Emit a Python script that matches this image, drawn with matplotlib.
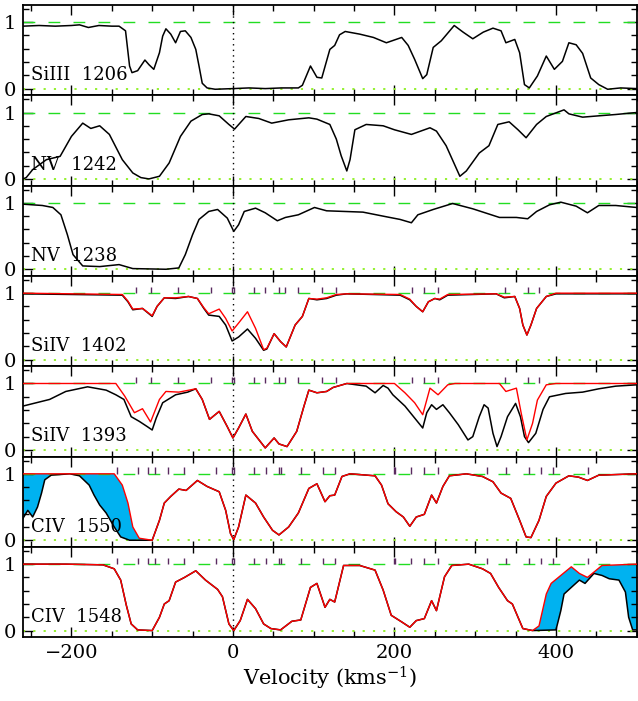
import numpy as np
import matplotlib
matplotlib.use("Agg")
import matplotlib.pyplot as plt
from matplotlib.ticker import MultipleLocator

plt.rcParams['font.family'] = ['DejaVu Serif']
plt.rcParams['mathtext.fontset'] = 'dejavuserif'

# ---- data (velocity km/s, normalised flux) ----
siiii_v = [-260, -240, -220, -200, -190, -179, -166, -150, -141, -133, -128, -125, -118, -109, -104, -98,
           -91, -87, -83, -77, -71, -65, -59, -52, -46, -42, -38, -32, -22, 0, 20, 40, 60, 81, 86, 96,
           104, 110, 120, 126, 132, 139, 157, 174, 190, 209, 217, 225, 235, 240, 248, 258, 274, 285,
           297, 310, 322, 332, 338, 349, 355, 361, 367, 377, 388, 398, 408, 416, 425, 433, 443, 453,
           464, 480, 500]
siiii_f = [0.94, 0.95, 0.94, 0.95, 0.96, 0.92, 0.95, 0.94, 0.94, 0.87, 0.34, 0.24, 0.27, 0.43, 0.36, 0.29,
           0.54, 0.79, 0.90, 0.82, 0.69, 0.86, 0.87, 0.77, 0.59, 0.34, 0.08, 0.01, -0.01, 0.0, 0.01, 0.0,
           0.01, 0.01, 0.05, 0.34, 0.17, 0.16, 0.59, 0.65, 0.81, 0.86, 0.82, 0.77, 0.69, 0.77, 0.65, 0.44,
           0.15, 0.21, 0.62, 0.72, 0.95, 0.85, 0.75, 0.85, 0.91, 0.87, 0.69, 0.74, 0.54, 0.06, 0.01, 0.19,
           0.49, 0.29, 0.41, 0.69, 0.66, 0.53, 0.16, 0.06, -0.01, 0.01, 0.0]

nv1242_v = [-260, -256, -248, -231, -214, -200, -186, -176, -165, -153, -137, -124, -114, -104, -91, -79,
            -65, -52, -38, -30, -17, -5, 2, 16, 32, 48, 69, 94, 104, 120, 128, 134, 141, 145, 151, 165,
            186, 200, 221, 244, 252, 264, 281, 289, 305, 317, 328, 342, 353, 363, 376, 388, 410, 416,
            433, 453, 474, 500]
nv1242_f = [0.0, 0.02, 0.14, 0.29, 0.34, 0.64, 0.84, 0.76, 0.80, 0.67, 0.29, 0.09, 0.02, 0.0, 0.04, 0.24,
            0.64, 0.87, 0.97, 0.98, 0.95, 0.82, 0.75, 0.94, 0.91, 0.84, 0.89, 0.92, 0.90, 0.82, 0.60, 0.35,
            0.12, 0.29, 0.74, 0.82, 0.80, 0.74, 0.67, 0.77, 0.72, 0.50, 0.04, 0.12, 0.39, 0.50, 0.82, 0.86,
            0.74, 0.62, 0.82, 0.94, 1.04, 0.98, 0.93, 0.95, 0.97, 1.0]

nv1238_v = [-260, -236, -223, -213, -205, -198, -186, -165, -141, -124, -83, -67, -59, -50, -42, -30,
            -19, -7, 1, 7, 14, 28, 40, 55, 65, 81, 101, 116, 161, 190, 207, 221, 229, 248, 272, 297,
            330, 351, 365, 376, 392, 406, 425, 439, 453, 474, 500]
nv1238_f = [0.98, 0.96, 0.93, 0.82, 0.52, 0.22, 0.05, 0.04, 0.07, 0.01, 0.0, 0.02, 0.22, 0.52, 0.75, 0.87,
            0.90, 0.77, 0.57, 0.67, 0.87, 0.92, 0.85, 0.73, 0.78, 0.82, 0.93, 0.88, 0.86, 0.79, 0.75, 0.70,
            0.82, 0.90, 0.99, 0.91, 0.78, 0.78, 0.76, 0.87, 0.97, 1.01, 0.95, 0.85, 0.96, 0.96, 0.93]

siiv1402_v = [-260, -137, -130, -124, -112, -100, -94, -85, -71, -55, -44, -36, -30, -17, -9, -1, 7, 18,
              28, 38, 42, 51, 59, 66, 77, 86, 94, 104, 116, 128, 141, 207, 219, 227, 235, 242, 250, 256,
              266, 326, 336, 349, 355, 359, 364, 369, 376, 388, 400, 500]
siiv1402_f = [0.99, 0.97, 0.87, 0.75, 0.77, 0.65, 0.80, 0.93, 0.92, 0.95, 0.92, 0.77, 0.67, 0.65, 0.52,
              0.28, 0.34, 0.46, 0.32, 0.14, 0.16, 0.39, 0.27, 0.19, 0.52, 0.65, 0.92, 0.90, 0.92, 0.97,
              0.99, 0.97, 0.90, 0.80, 0.72, 0.87, 0.92, 0.90, 0.97, 0.99, 0.93, 0.95, 0.77, 0.52, 0.37,
              0.52, 0.77, 0.95, 0.99, 0.99]
siiv1402_model = [1.0, 0.98, 0.88, 0.76, 0.77, 0.66, 0.80, 0.93, 0.93, 0.95, 0.92, 0.78, 0.69, 0.76, 0.62,
                  0.43, 0.55, 0.72, 0.47, 0.15, 0.17, 0.39, 0.27, 0.19, 0.52, 0.65, 0.92, 0.91, 0.93, 0.98,
                  0.99, 0.98, 0.91, 0.80, 0.72, 0.87, 0.92, 0.91, 0.98, 0.99, 0.94, 0.95, 0.77, 0.52, 0.37,
                  0.52, 0.77, 0.95, 1.0, 1.0]

siiv1393_v = [-260, -227, -207, -180, -157, -145, -135, -126, -116, -106, -100, -95, -87, -71, -56, -46,
              -38, -29, -17, -7, 0, 7, 16, 24, 40, 51, 57, 67, 79, 88, 94, 104, 116, 124, 141, 165, 176,
              186, 192, 198, 213, 223, 235, 240, 246, 252, 260, 268, 279, 291, 297, 305, 311, 316, 322,
              327, 332, 340, 350, 356, 361, 366, 375, 384, 392, 412, 433, 453, 474, 500]
siiv1393_f = [0.66, 0.76, 0.88, 0.95, 0.90, 0.83, 0.76, 0.50, 0.43, 0.35, 0.30, 0.48, 0.71, 0.83, 0.87,
              0.92, 0.76, 0.46, 0.58, 0.35, 0.18, 0.33, 0.54, 0.28, 0.03, 0.18, 0.09, 0.05, 0.28, 0.66,
              0.90, 0.86, 0.88, 0.94, 1.0, 0.96, 0.86, 0.97, 0.93, 0.83, 0.66, 0.51, 0.33, 0.56, 0.68,
              0.61, 0.68, 0.56, 0.38, 0.15, 0.20, 0.50, 0.68, 0.63, 0.25, 0.05, 0.20, 0.50, 0.70, 0.50,
              0.20, 0.11, 0.25, 0.61, 0.80, 0.85, 0.87, 0.92, 0.96, 0.98]
siiv1393_model_v = [-260, -145, -134, -122, -112, -102, -91, -83, -67, -46, -38, -29, -17, -7, 0, 7, 16,
                    24, 40, 51, 57, 67, 79, 88, 94, 104, 116, 124, 141, 200, 213, 225, 235, 244, 254, 266,
                    275, 330, 338, 351, 357, 364, 371, 377, 388, 400, 500]
siiv1393_model = [1.0, 1.0, 0.81, 0.56, 0.62, 0.42, 0.76, 0.88, 0.87, 0.92, 0.76, 0.46, 0.58, 0.35, 0.18,
                  0.33, 0.54, 0.28, 0.03, 0.18, 0.09, 0.05, 0.28, 0.66, 0.90, 0.86, 0.88, 0.94, 1.0, 1.0,
                  0.86, 0.71, 0.53, 0.93, 0.83, 0.98, 1.0, 1.0, 0.88, 0.93, 0.55, 0.15, 0.40, 0.75, 0.98,
                  1.0, 1.0]

civ1550_v = [-260, -254, -248, -242, -237, -233, -225, -202, -190, -178, -172, -165, -157, -147, -139, -128,
             -100, -91, -85, -77, -67, -58, -44, -32, -17, -9, -3, 1, 7, 16, 28, 38, 49, 57, 69, 81, 94,
             104, 114, 120, 126, 135, 145, 176, 184, 192, 202, 211, 219, 227, 237, 246, 252, 260, 268,
             289, 309, 322, 332, 344, 355, 363, 369, 379, 388, 400, 416, 428, 439, 453, 500]
civ1550_f = [0.33, 0.45, 0.35, 0.50, 0.71, 0.91, 0.98, 1.0, 0.97, 0.83, 0.68, 0.53, 0.41, 0.20, 0.05, 0.0,
             0.0, 0.30, 0.56, 0.66, 0.77, 0.75, 0.90, 0.81, 0.73, 0.45, 0.10, 0.01, 0.20, 0.68, 0.56, 0.35,
             0.15, 0.08, 0.20, 0.41, 0.78, 0.85, 0.58, 0.67, 0.68, 0.96, 1.0, 0.97, 0.83, 0.55, 0.43, 0.35,
             0.21, 0.35, 0.39, 0.68, 0.56, 0.81, 0.97, 1.0, 0.96, 0.88, 0.71, 0.63, 0.30, 0.05, 0.04, 0.30,
             0.66, 0.86, 0.97, 0.95, 0.90, 0.98, 1.0]
civ1550_model_v = [-260, -147, -137, -130, -124, -116, -100] + civ1550_v[17:]
civ1550_model = [1.0, 1.0, 0.83, 0.56, 0.20, 0.03, 0.0] + civ1550_f[17:]

civ1548_v = [-260, -207, -161, -147, -139, -132, -126, -118, -100, -91, -85, -79, -71, -60, -46, -34, -19,
             -13, -5, 1, 9, 18, 28, 38, 47, 59, 73, 84, 96, 104, 114, 120, 126, 137, 157, 176, 186, 196,
             209, 219, 227, 237, 246, 252, 262, 271, 292, 309, 319, 329, 340, 346, 359, 371, 400, 406,
             410, 419, 429, 436, 447, 457, 466, 478, 486, 490, 495, 500]
civ1548_f = [1.0, 1.0, 0.99, 0.93, 0.76, 0.38, 0.10, 0.01, 0.0, 0.20, 0.40, 0.45, 0.73, 0.80, 0.90, 0.76,
             0.62, 0.51, 0.10, 0.0, 0.15, 0.47, 0.33, 0.10, 0.03, 0.01, 0.14, 0.16, 0.65, 0.71, 0.35, 0.47,
             0.43, 0.98, 0.98, 0.91, 0.61, 0.23, 0.13, 0.05, 0.15, 0.18, 0.45, 0.30, 0.81, 0.98, 1.0, 0.93,
             0.86, 0.65, 0.45, 0.40, 0.03, 0.0, 0.01, 0.30, 0.55, 0.65, 0.76, 0.71, 0.86, 0.83, 0.78, 0.76,
             0.58, 0.20, 0.01, 0.01]
civ1548_model_v = civ1548_v[:54] + [379, 388, 394, 404, 419, 429, 439, 447, 457, 500]
civ1548_model = civ1548_f[:54] + [0.07, 0.55, 0.71, 0.81, 0.96, 0.86, 0.80, 0.88, 0.98, 1.0]

# velocity components marked at the top of the fitted panels
siiv_comps = [-120, -101, -68, -27, -1, 1, 26, 40, 57, 65, 80, 110, 128, 222, 237, 254, 337, 365, 379]
civ_comps = [-143, -118, -105, -96, -81, -60, -21, -1, 1, 26, 41, 57, 59, 84, 112, 126, 199, 201, 221,
             236, 254, 314, 338, 367, 381, 396, 440]

labels = ['SiIII  1206', 'NV  1242', 'NV  1238', 'SiIV  1402', 'SiIV  1393', 'CIV  1550', 'CIV  1548']

panels = [
    (siiii_v, siiii_f, None, None, None, None),
    (nv1242_v, nv1242_f, None, None, None, None),
    (nv1238_v, nv1238_f, None, None, None, None),
    (siiv1402_v, siiv1402_f, siiv1402_v, siiv1402_model, siiv_comps, None),
    (siiv1393_v, siiv1393_f, siiv1393_model_v, siiv1393_model, siiv_comps, None),
    (civ1550_v, civ1550_f, civ1550_model_v, civ1550_model, civ_comps, (-300, -100)),
    (civ1548_v, civ1548_f, civ1548_model_v, civ1548_model, civ_comps, (371, 600)),
]

fig, axes = plt.subplots(7, 1, figsize=(6.38, 7.01), dpi=100, sharex=True)
fig.subplots_adjust(left=0.036, right=0.998, top=0.993, bottom=0.091, hspace=0)

for ax, (v, f, mv, mf, comps, fill_rng), lab in zip(axes, panels, labels):
    v = np.array(v)
    f = np.array(f)
    if fill_rng is not None:
        # cyan area between model (red) and data (black)
        mv_a = np.array(mv)
        mf_a = np.array(mf)
        lo, hi = fill_rng
        km = (mv_a >= lo) & (mv_a <= hi)
        kd = (v >= lo) & (v <= hi)
        xs = np.concatenate([mv_a[km], v[kd][::-1]])
        ys = np.concatenate([mf_a[km], f[kd][::-1]])
        ax.fill(xs, ys, color='#00b2f0', lw=0, zorder=1)
    ax.axhline(1.0, color='#22dd22', lw=1.0, dashes=(8.5, 9.5), zorder=2)
    ax.axhline(0.0, color='#8cf020', lw=1.3, dashes=(1.2, 4.5), zorder=2)
    ax.axvline(0.0, color='black', lw=1.0, dashes=(1.0, 3.0), zorder=2)
    ax.plot(v, f, color='black', lw=1.1, zorder=3)
    if mf is not None:
        ax.plot(mv, mf, color='red', lw=1.0, zorder=4)
    if comps is not None:
        ax.vlines(comps, 1.0, 1.1, color='#5a2a60', lw=1.0, zorder=5)
    ax.text(-250, 0.07, lab, fontsize=13, ha='left', va='bottom', zorder=6)

    ax.set_xlim(-260, 500)
    ax.set_ylim(-0.1, 1.26)
    ax.xaxis.set_major_locator(MultipleLocator(200))
    ax.xaxis.set_minor_locator(MultipleLocator(50))
    ax.set_yticks([0, 1])
    ax.set_yticklabels(['0', '1'])
    ax.yaxis.set_minor_locator(MultipleLocator(0.2))
    ax.tick_params(which='both', direction='in', top=True, right=True, width=1.0)
    ax.tick_params(which='major', length=7, labelsize=14, pad=5)
    ax.tick_params(which='minor', length=4)
    for s in ax.spines.values():
        s.set_linewidth(1.3)

axes[-1].set_xticks([-200, 0, 200, 400])
axes[-1].set_xticklabels(['\u2212200', '0', '200', '400'])
axes[-1].set_xlabel('Velocity (kms$^{-1}$)', fontsize=15, labelpad=2)

plt.savefig('out.png', dpi=100)
